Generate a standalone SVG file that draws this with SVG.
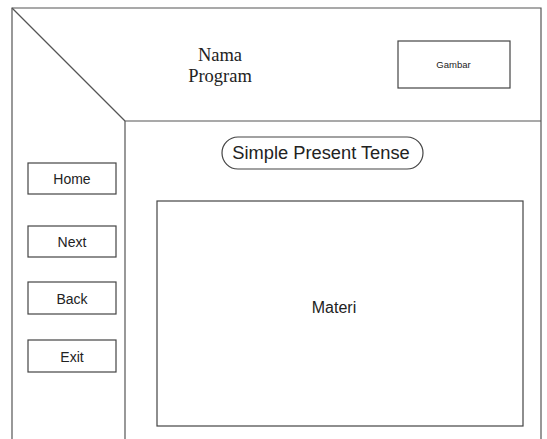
<svg xmlns="http://www.w3.org/2000/svg" width="547" height="439" viewBox="0 0 547 439">
  <style>
    .frame { fill: none; stroke: #555; stroke-width: 1.2; }
    .box { fill: #fff; stroke: #444; stroke-width: 1.2; }
    .sans { font-family: "Liberation Sans", Arial, sans-serif; fill: #222; text-anchor: middle; }
    .serif { font-family: "Liberation Serif", "Times New Roman", serif; fill: #222; text-anchor: middle; }
  </style>
  <rect width="547" height="439" fill="#fff"/>

  <!-- page layout frame -->
  <g id="layout" class="frame">
    <path d="M12,445 V8 H541 V445"/>
    <line x1="12" y1="8" x2="125" y2="121"/>
    <path d="M125,445 V121 H541"/>
  </g>

  <!-- header -->
  <g id="title">
    <text class="serif" x="220" y="61" font-size="18.5">Nama</text>
    <text class="serif" x="220" y="82" font-size="18.5">Program</text>
  </g>
  <g id="gambar">
    <rect class="box" x="398" y="41" width="112" height="47"/>
    <text class="sans" x="453.5" y="67.5" font-size="9.5">Gambar</text>
  </g>

  <!-- content area -->
  <g id="topic">
    <rect class="box" x="222" y="137" width="201" height="32" rx="16" ry="16"/>
    <text class="sans" x="321" y="159" font-size="18.3">Simple Present Tense</text>
  </g>
  <g id="materi">
    <rect class="box" x="157" y="201" width="366" height="225"/>
    <text class="sans" x="334" y="313" font-size="16">Materi</text>
  </g>

  <!-- navigation buttons -->
  <g id="home">
    <rect class="box" x="28" y="163" width="88" height="31"/>
    <text class="sans" x="72" y="184" font-size="14">Home</text>
  </g>
  <g id="next">
    <rect class="box" x="28" y="226" width="88" height="31"/>
    <text class="sans" x="72" y="247" font-size="14">Next</text>
  </g>
  <g id="back">
    <rect class="box" x="28" y="282" width="88" height="32"/>
    <text class="sans" x="72" y="303.5" font-size="14">Back</text>
  </g>
  <g id="exit">
    <rect class="box" x="28" y="340" width="88" height="32"/>
    <text class="sans" x="72" y="361.5" font-size="14">Exit</text>
  </g>

  <g id="connectors"/>
</svg>
